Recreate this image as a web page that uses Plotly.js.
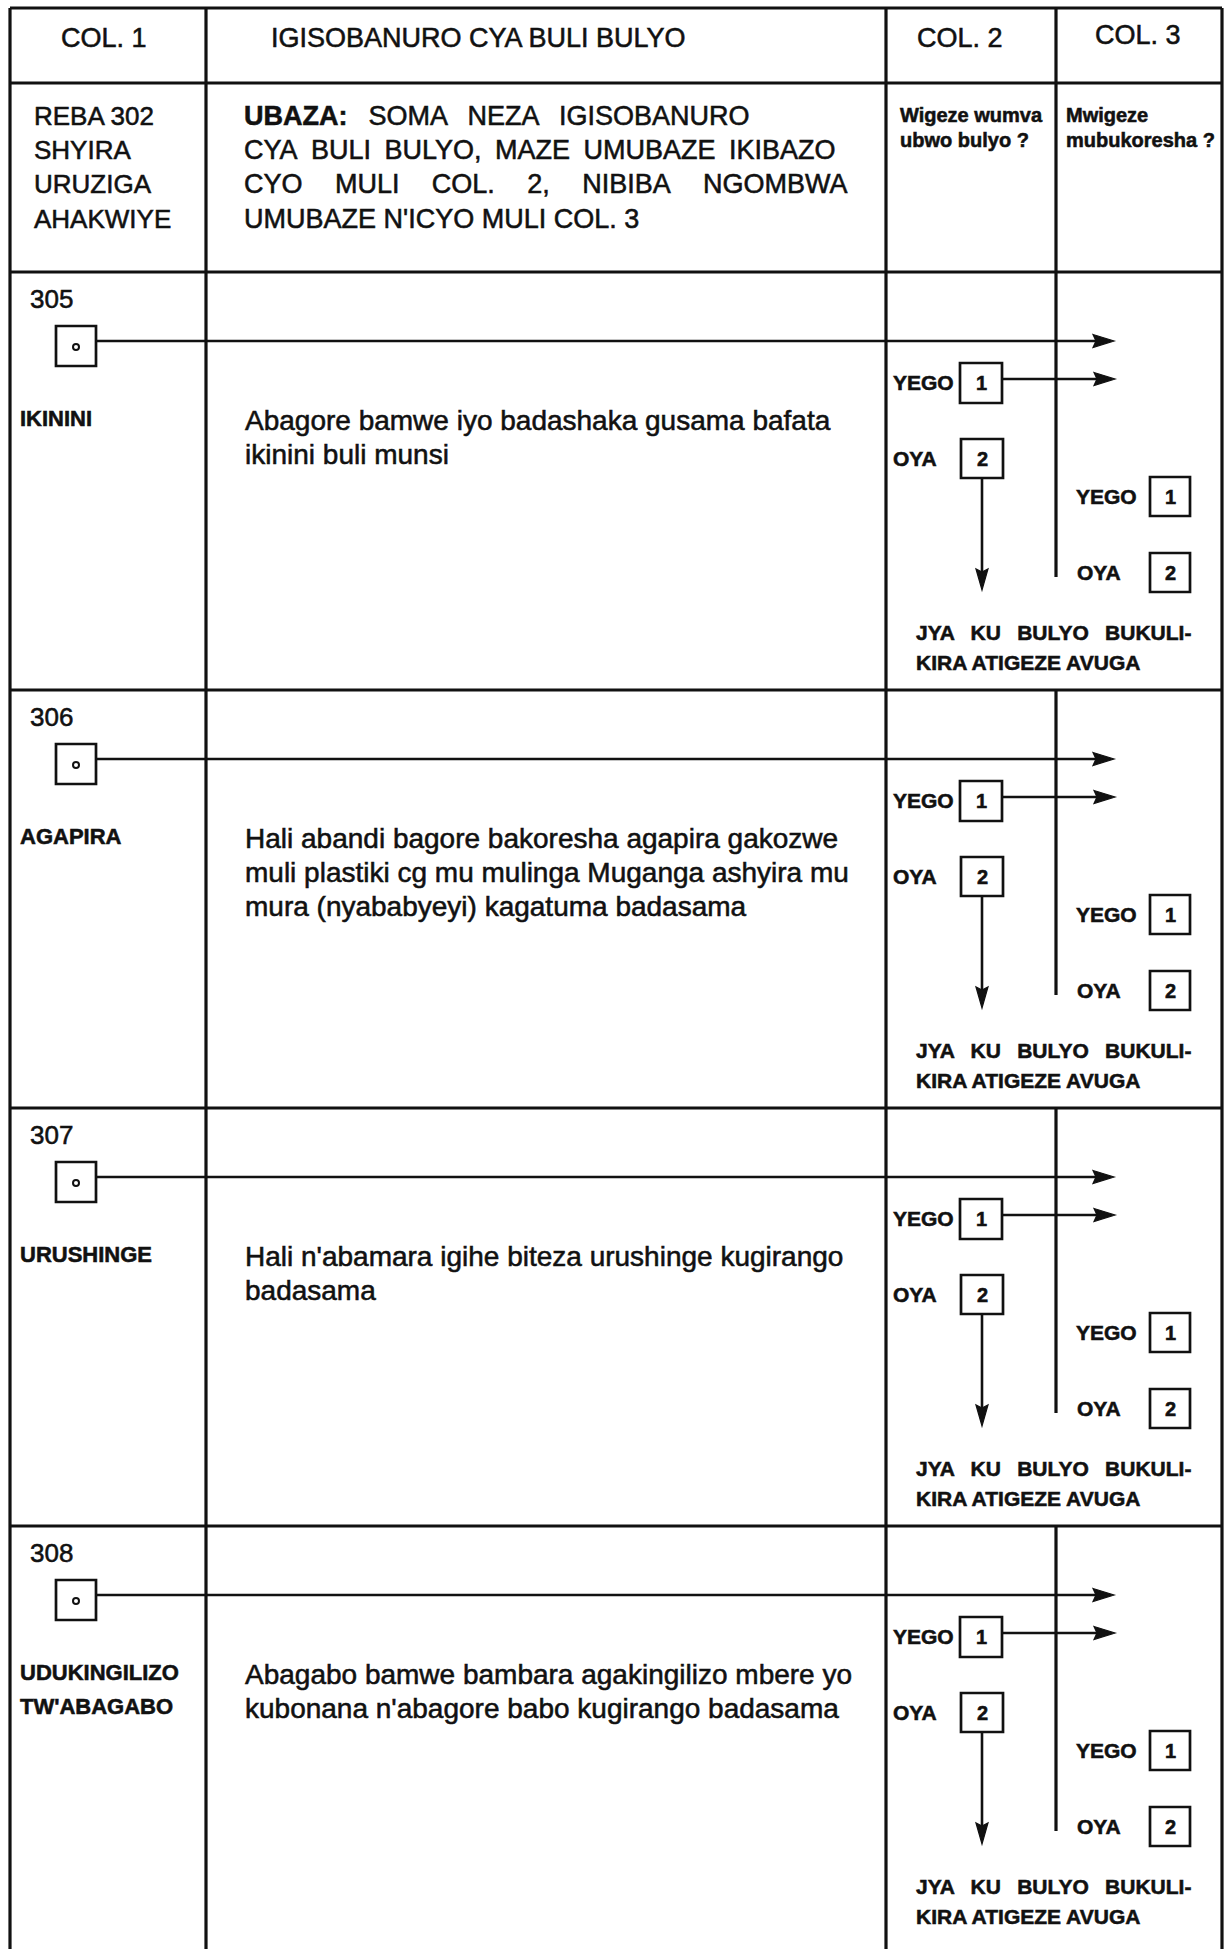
<!DOCTYPE html>
<html>
<head>
<meta charset="utf-8">
<script src="https://cdn.plot.ly/plotly-3.0.1.min.js"></script>
<style>
html,body{margin:0;padding:0;background:#fff;}
#form{width:1225px;height:1949px;}
#form text.annotation-text{stroke:#111;stroke-width:0.55px;}
</style>
</head>
<body>
<div id="form"></div>
<script>
// ---------------- DATA (text content of the questionnaire page) ----------------
const headerLabels = ['COL. 1', 'IGISOBANURO CYA BULI BULYO', 'COL. 2', 'COL. 3'];
const col1Instruction = ['REBA 302', 'SHYIRA', 'URUZIGA', 'AHAKWIYE'];
const interviewerInstruction = [
  '<b>UBAZA:</b> SOMA NEZA IGISOBANURO',
  'CYA BULI BULYO, MAZE UMUBAZE IKIBAZO',
  'CYO MULI COL. 2, NIBIBA NGOMBWA',
  "UMUBAZE N'ICYO MULI COL. 3"
];
const col2Question = ['Wigeze wumva', 'ubwo bulyo ?'];
const col3Question = ['Mwigeze', 'mubukoresha ?'];
const questionNumbers = ['305', '306', '307', '308'];
const methodNames = [
  ['IKININI'],
  ['AGAPIRA'],
  ['URUSHINGE'],
  ['UDUKINGILIZO', "TW'ABAGABO"]
];
const descriptions = [
  ['Abagore bamwe iyo badashaka gusama bafata', 'ikinini buli munsi'],
  ['Hali abandi bagore bakoresha agapira gakozwe', 'muli plastiki cg mu mulinga Muganga ashyira mu', 'mura (nyababyeyi) kagatuma badasama'],
  ["Hali n'abamara igihe biteza urushinge kugirango", 'badasama'],
  ['Abagabo bamwe bambara agakingilizo mbere yo', "kubonana n'abagore babo kugirango badasama"]
];
const answerLabels = ['YEGO', 'OYA'];
const answerCodes = ['1', '2'];
const skipInstruction = ['JYA KU BULYO BUKULI-', 'KIRA ATIGEZE AVUGA'];

// ---------------- LAYOUT / STYLE ----------------
const W = 1225, H = 1949;
const FONT = 'Liberation Sans, Arial, Helvetica, sans-serif';
const INK = '#111';
const X = {left: 10, c1: 206, c2: 886, c3: 1056, right: 1222};
const Y = {top: 8, head: 83, instr: 272};
const BLOCK_H = 418;
const GRID_W = 3.2;
const FLOW_W = 2.6;
const blockTop = i => Y.instr + i * BLOCK_H;
// word-gap widening used to imitate the justified typesetting of the scan
const widen = (s, gap) => s.split(' ').join(gap);
const instrGaps = [' \u2002', '\u2002', '\u2003\u2009', ' '];
const skipGaps = [' \u2002', ' '];

const shapes = [];
const annotations = [];

function seg(x0, y0, x1, y1, w) {
  shapes.push({type: 'line', xref: 'x', yref: 'y', x0, y0, x1, y1,
    line: {color: INK, width: w || GRID_W}});
}
function box(x0, y0, x1, y1) {
  shapes.push({type: 'rect', xref: 'x', yref: 'y', x0, y0, x1, y1,
    line: {color: INK, width: 2.7}, fillcolor: 'rgba(0,0,0,0)'});
}
function headRight(xt, y) {
  shapes.push({type: 'path', xref: 'x', yref: 'y',
    path: `M ${xt - 21} ${y - 6.5} L ${xt} ${y} L ${xt - 21} ${y + 6.5} L ${xt - 18} ${y} Z`,
    fillcolor: INK, line: {color: INK, width: 1.2}});
}
function headDown(x, yt) {
  shapes.push({type: 'path', xref: 'x', yref: 'y',
    path: `M ${x - 6} ${yt - 21} L ${x} ${yt} L ${x + 6} ${yt - 21} L ${x} ${yt - 18} Z`,
    fillcolor: INK, line: {color: INK, width: 1.2}});
}
function txt(text, x, y, size, opts) {
  opts = opts || {};
  annotations.push({
    text: opts.bold ? '<b>' + text + '</b>' : text,
    x, y, xref: 'x', yref: 'y',
    xanchor: opts.anchor || 'left', yanchor: 'middle',
    showarrow: false, borderpad: 0, borderwidth: 0,
    font: {family: FONT, size, color: INK}
  });
}

// ---- grid ----
seg(X.left, Y.top, X.right, Y.top);
seg(X.left, Y.top, X.left, H);
seg(X.right, Y.top, X.right, H);
seg(X.c1, Y.top, X.c1, H);
seg(X.c2, Y.top, X.c2, H);
seg(X.c3, Y.top, X.c3, Y.instr);
seg(X.left, Y.head, X.right, Y.head);
questionNumbers.forEach((q, i) => seg(X.left, blockTop(i), X.right, blockTop(i)));

// ---- header row ----
txt(headerLabels[0], 104, 38, 27, {anchor: 'center'});
txt(headerLabels[1], 271, 38, 27);
txt(headerLabels[2], 960, 38, 27, {anchor: 'center'});
txt(headerLabels[3], 1138, 35, 27, {anchor: 'center'});

// ---- instruction row ----
const instrY = [116, 150, 184, 219];
col1Instruction.forEach((s, k) => txt(s, 34, instrY[k], 26));
interviewerInstruction.forEach((s, k) => txt(widen(s, instrGaps[k]), 244, instrY[k], 27));
col2Question.forEach((s, k) => txt(s, 900, 115 + k * 25, 20, {bold: true}));
col3Question.forEach((s, k) => txt(s, 1066, 115 + k * 25, 20, {bold: true}));

// ---- question blocks ----
questionNumbers.forEach((q, i) => {
  const T = blockTop(i);
  // column 1
  txt(q, 30, T + 27, 26);
  box(56, T + 54, 96, T + 94);
  methodNames[i].forEach((s, k) => txt(s, 20, T + 146 + k * 34, 22, {bold: true}));
  // main flow arrow to the next question
  seg(96, T + 69, 1100, T + 69, FLOW_W);
  headRight(1114, T + 69);
  // description
  descriptions[i].forEach((s, k) => txt(s, 245, T + 148 + k * 34, 28));
  // column 2 answers
  txt(answerLabels[0], 893, T + 110, 21, {bold: true});
  box(960, T + 91, 1002, T + 131);
  txt(answerCodes[0], 981, T + 111, 20, {bold: true, anchor: 'center'});
  seg(1002, T + 107, 1100, T + 107, FLOW_W);
  headRight(1115, T + 107);
  txt(answerLabels[1], 893, T + 186, 21, {bold: true});
  box(961, T + 167, 1003, T + 206);
  txt(answerCodes[1], 982, T + 187, 20, {bold: true, anchor: 'center'});
  seg(982, T + 206, 982, T + 302, FLOW_W);
  headDown(982, T + 318);
  // column 3 divider (partial) and answers
  seg(X.c3, T, X.c3, T + 305);
  txt(answerLabels[0], 1076, T + 224, 21, {bold: true});
  box(1150, T + 205, 1190, T + 244);
  txt(answerCodes[0], 1170, T + 225, 20, {bold: true, anchor: 'center'});
  txt(answerLabels[1], 1077, T + 300, 21, {bold: true});
  box(1150, T + 281, 1190, T + 320);
  txt(answerCodes[1], 1170, T + 301, 20, {bold: true, anchor: 'center'});
  // skip instruction
  skipInstruction.forEach((s, k) => txt(widen(s, skipGaps[k]), 916, T + 360 + k * 30, 21, {bold: true}));
});

// small open dots inside the column-1 marker boxes (drawn through the axes)
const dotTrace = {
  type: 'scatter', mode: 'markers', hoverinfo: 'skip',
  x: questionNumbers.map(() => 76),
  y: questionNumbers.map((q, i) => blockTop(i) + 75),
  marker: {symbol: 'circle-open', size: 6, color: INK, line: {width: 2, color: INK}}
};

const layout = {
  width: W, height: H,
  margin: {l: 0, r: 0, t: 0, b: 0, pad: 0},
  paper_bgcolor: '#fff', plot_bgcolor: '#fff',
  showlegend: false,
  xaxis: {range: [0, W], visible: false, fixedrange: true},
  yaxis: {range: [H, 0], visible: false, fixedrange: true},
  shapes, annotations
};

Plotly.newPlot('form', [dotTrace], layout, {staticPlot: true, displayModeBar: false});
</script>
</body>
</html>
